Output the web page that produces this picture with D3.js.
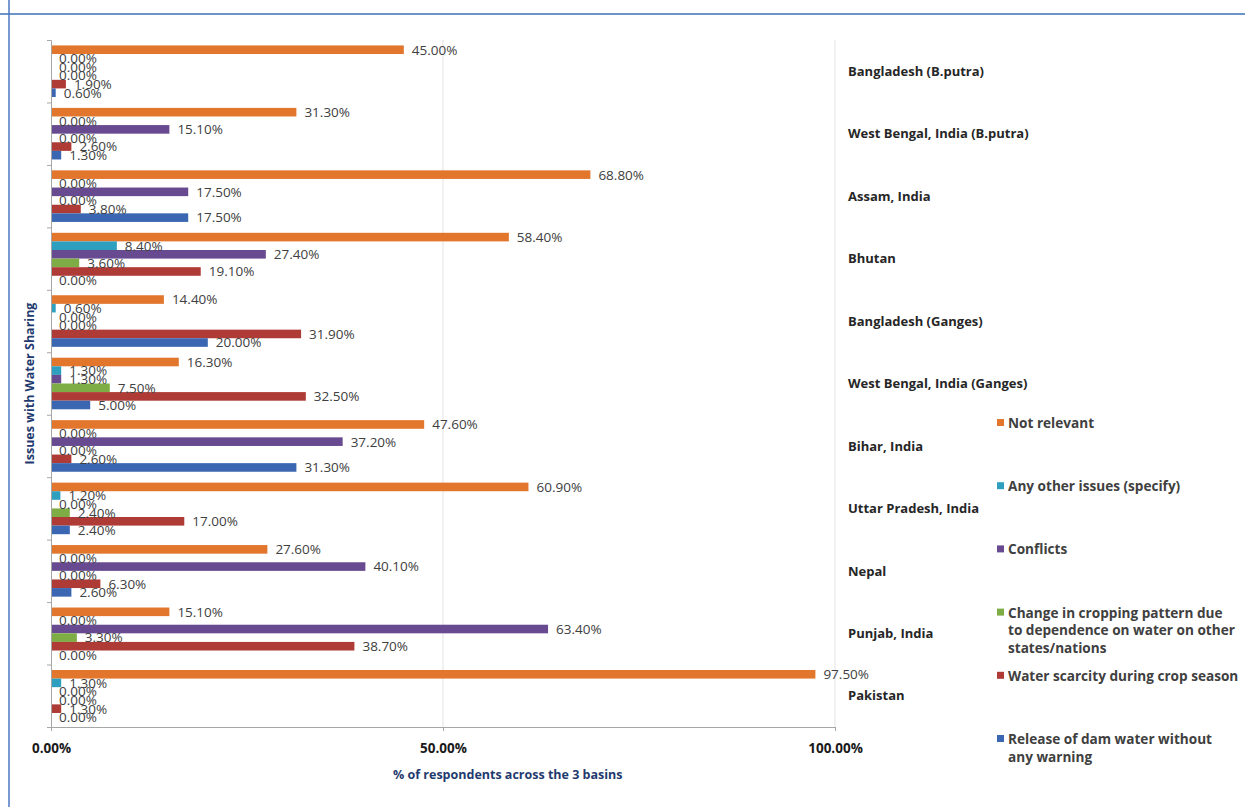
<!DOCTYPE html>
<html>
<head>
<meta charset="utf-8">
<script src="https://cdn.jsdelivr.net/npm/d3@7"></script>
<style>
  html, body { margin: 0; padding: 0; background: #ffffff; }
  svg { display: block; }
</style>
</head>
<body>
<svg id="chart" width="1245" height="807"></svg>
<script>
// Regions surveyed, listed top to bottom
const categories = [
  "Bangladesh (B.putra)",
  "West Bengal, India (B.putra)",
  "Assam, India",
  "Bhutan",
  "Bangladesh (Ganges)",
  "West Bengal, India (Ganges)",
  "Bihar, India",
  "Uttar Pradesh, India",
  "Nepal",
  "Punjab, India",
  "Pakistan"
];

// Issue series, in the order their bars are stacked inside each group
const seriesNames = [
  "Not relevant",
  "Any other issues (specify)",
  "Conflicts",
  "Change in cropping pattern due to dependence on water on other states/nations",
  "Water scarcity during crop season",
  "Release of dam water without any warning"
];

// Share of respondents (%) per region
const notRelevant  = [45.0, 31.3, 68.8, 58.4, 14.4, 16.3, 47.6, 60.9, 27.6, 15.1, 97.5];
const otherIssues  = [0.0, 0.0, 0.0, 8.4, 0.6, 1.3, 0.0, 1.2, 0.0, 0.0, 1.3];
const conflicts    = [0.0, 15.1, 17.5, 27.4, 0.0, 1.3, 37.2, 0.0, 40.1, 63.4, 0.0];
const croppingShift = [0.0, 0.0, 0.0, 3.6, 0.0, 7.5, 0.0, 2.4, 0.0, 3.3, 0.0];
const waterScarcity = [1.9, 2.6, 3.8, 19.1, 31.9, 32.5, 2.6, 17.0, 6.3, 38.7, 1.3];
const damRelease   = [0.6, 1.3, 17.5, 0.0, 20.0, 5.0, 31.3, 2.4, 2.6, 0.0, 0.0];

const seriesValues = [notRelevant, otherIssues, conflicts, croppingShift, waterScarcity, damRelease];
const seriesColors = ["#e2762c", "#2f9fc0", "#684a90", "#7fad45", "#ae3b36", "#3b67b2"];

// Legend text split into display lines
const legendLines = [
  ["Not relevant"],
  ["Any other issues (specify)"],
  ["Conflicts"],
  ["Change in cropping pattern due", "to dependence on water on other", "states/nations"],
  ["Water scarcity during crop season"],
  ["Release of dam water without", "any warning"]
];

const xTickValues = [0, 50, 100];
const xTitle = "% of respondents across the 3 basins";
const yTitle = "Issues with Water Sharing";

const svg = d3.select("#chart");
const font = "'Open Sans', 'Liberation Sans', sans-serif";

// Page frame
svg.append("line").attr("x1", 0).attr("x2", 1245).attr("y1", 14).attr("y2", 14)
  .attr("stroke", "#6b94c7").attr("stroke-width", 2);
svg.append("line").attr("x1", 9).attr("x2", 9).attr("y1", 0).attr("y2", 807)
  .attr("stroke", "#4a78c0").attr("stroke-width", 1.5);

// Plot geometry
const plot = { left: 51, right: 835, top: 40, bottom: 727 };

const x = d3.scaleLinear().domain([0, 100]).range([plot.left, plot.right]);
const yGroup = d3.scaleBand().domain(categories)
  .range([plot.top, plot.bottom]).paddingInner(0.174).paddingOuter(0.087);
const ySeries = d3.scaleBand().domain(d3.range(seriesNames.length))
  .range([0, yGroup.bandwidth()]);
const yEdge = d3.scaleLinear().domain([0, categories.length]).range([plot.top, plot.bottom]);

// Vertical gridlines
svg.append("g").selectAll("line").data(xTickValues.filter(d => d > 0)).join("line")
  .attr("x1", d => x(d)).attr("x2", d => x(d))
  .attr("y1", plot.top).attr("y2", plot.bottom)
  .attr("stroke", "#e3e3e3").attr("stroke-width", 1);

// Bars
const rows = [];
categories.forEach((c, ci) => {
  seriesValues.forEach((vals, si) => rows.push({ c, si, v: vals[ci] }));
});

svg.append("g").selectAll("rect").data(rows).join("rect")
  .attr("x", x(0))
  .attr("y", d => yGroup(d.c) + ySeries(d.si))
  .attr("width", d => x(d.v) - x(0))
  .attr("height", ySeries.bandwidth())
  .attr("fill", d => seriesColors[d.si]);

// Value labels
svg.append("g").selectAll("text").data(rows).join("text")
  .attr("x", d => x(d.v) + 8)
  .attr("y", d => yGroup(d.c) + ySeries(d.si) + ySeries.bandwidth() / 2)
  .attr("dy", "0.36em")
  .attr("font-family", font).attr("font-size", 13.5)
  .attr("fill", "#404040")
  .text(d => d.v.toFixed(2) + "%");

// Y axis: line with ticks at group boundaries
const yAxis = d3.axisLeft(yEdge).tickValues(d3.range(categories.length + 1))
  .tickSize(4).tickFormat("");
const gy = svg.append("g").attr("transform", `translate(${plot.left},0)`).call(yAxis);
gy.select(".domain").attr("stroke", "#a6a6a6");
gy.selectAll(".tick line").attr("stroke", "#a6a6a6");

// X axis
const xAxis = d3.axisBottom(x).tickValues(xTickValues).tickSize(4).tickPadding(12)
  .tickFormat(d => d.toFixed(2) + "%");
const gx = svg.append("g").attr("transform", `translate(0,${plot.bottom})`).call(xAxis);
gx.select(".domain").attr("stroke", "#a6a6a6");
gx.selectAll(".tick line").attr("stroke", "#a6a6a6");
gx.selectAll(".tick text").attr("font-family", font).attr("font-size", 13.5)
  .attr("font-weight", 700).attr("fill", "#1a1a1a");

// Category labels on the right
svg.append("g").selectAll("text").data(categories).join("text")
  .attr("x", 848)
  .attr("y", d => yGroup(d) + yGroup.bandwidth() / 2)
  .attr("dy", "0.36em")
  .attr("font-family", font).attr("font-size", 13).attr("font-weight", 700)
  .attr("fill", "#262626")
  .text(d => d);

// Axis titles
svg.append("text")
  .attr("x", 393).attr("y", 779)
  .attr("font-family", font).attr("font-size", 12.5).attr("font-weight", 700)
  .attr("fill", "#1f3a6e")
  .text(xTitle);

svg.append("text")
  .attr("transform", `translate(34,${(plot.top + plot.bottom) / 2}) rotate(-90)`)
  .attr("text-anchor", "middle")
  .attr("font-family", font).attr("font-size", 12.5).attr("font-weight", 700)
  .attr("fill", "#1f3a6e")
  .text(yTitle);

// Legend
const legendY = d3.scaleLinear().domain([0, seriesNames.length - 1]).range([423, 739]);
const legend = svg.append("g").selectAll("g").data(seriesNames).join("g")
  .attr("transform", (d, i) => `translate(997,${legendY(i)})`);
legend.append("rect")
  .attr("x", 0).attr("y", -4).attr("width", 7).attr("height", 7)
  .attr("fill", (d, i) => seriesColors[i]);
legend.append("text")
  .attr("font-family", font).attr("font-size", 13.6).attr("font-weight", 700)
  .attr("fill", "#404040")
  .selectAll("tspan").data((d, i) => legendLines[i]).join("tspan")
  .attr("x", 11)
  .attr("y", (d, j) => j * 18)
  .attr("dy", "0.36em")
  .text(d => d);
</script>
</body>
</html>
